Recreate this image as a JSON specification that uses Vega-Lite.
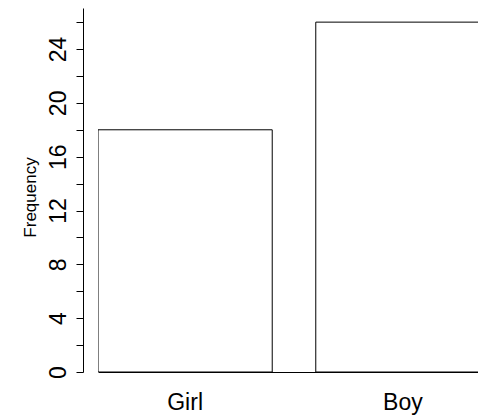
{
  "$schema": "https://vega.github.io/schema/vega-lite/v6.json",
  "autosize": "none",
  "width": 380,
  "height": 364,
  "padding": {"left": 98, "top": 8, "right": 0, "bottom": 48},
  "background": "white",
  "config": {
    "view": {"stroke": null},
    "font": "Liberation Sans",
    "axis": {"grid": false, "domainColor": "black", "tickColor": "black", "labelColor": "black", "titleColor": "black", "labelFont": "Liberation Sans", "titleFont": "Liberation Sans", "titleFontWeight": "normal"}
  },
  "data": {"values": [
    {"sex": "Girl", "count": 18},
    {"sex": "Boy", "count": 26}
  ]},
  "mark": {"type": "bar", "fill": "white", "stroke": "black", "strokeWidth": 1, "clip": true},
  "encoding": {
    "x": {
      "field": "sex", "type": "nominal", "sort": ["Girl", "Boy"],
      "scale": {"range": [0, 392], "paddingInner": 0.2, "paddingOuter": 0},
      "axis": {"title": null, "ticks": false, "labelAngle": 0, "labelFontSize": 23, "labelPadding": 19, "labelBaseline": "top", "domainWidth": 1}
    },
    "y": {
      "field": "count", "type": "quantitative",
      "scale": {"domain": [0, 27.05], "nice": false},
      "axis": {
        "title": "Frequency", "titleFontSize": 17, "titleAngle": -90,
        "titleX": -53, "titleY": 189, "titleAlign": "center", "titleBaseline": "middle",
        "values": [0, 2, 4, 6, 8, 10, 12, 14, 16, 18, 20, 22, 24, 26],
        "labelExpr": "datum.value % 4 === 0 ? datum.label : ''",
        "labelAngle": -90, "labelAlign": "center", "labelBaseline": "bottom",
        "labelFontSize": 23, "labelPadding": 6, "tickSize": 7, "offset": 15
      }
    }
  }
}
